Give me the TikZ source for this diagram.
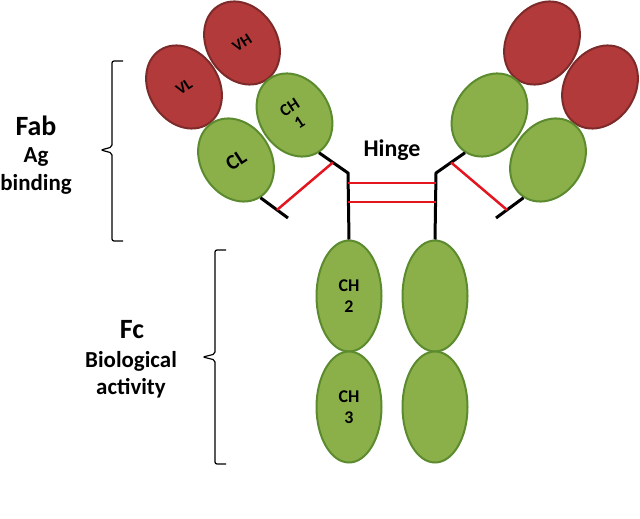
\documentclass[tikz,border=0pt]{standalone}
\usepackage{fontspec}
\setmainfont{Carlito}
\usetikzlibrary{shapes.geometric,calc}
\definecolor{redfill}{HTML}{B33A3A}
\definecolor{reddraw}{HTML}{7D2A2A}
\definecolor{greenfill}{HTML}{8BB04A}
\definecolor{greendraw}{HTML}{5C8A2E}
\definecolor{bondred}{HTML}{E3161F}
\tikzset{
  vdom/.style={ellipse, draw=reddraw, fill=redfill, line width=2bp, minimum width=70bp, minimum height=88bp, inner sep=0pt},
  cdom/.style={ellipse, draw=greendraw, fill=greenfill, line width=2bp, minimum width=70bp, minimum height=88bp, inner sep=0pt},
  fcdom/.style={ellipse, draw=greendraw, fill=greenfill, line width=2bp, minimum width=65bp, minimum height=111bp, inner sep=0pt},
  vlab/.style={inner sep=0pt, font=\bfseries\fontsize{16}{16}\selectfont},
  clab/.style={inner sep=0pt, align=center, font=\bfseries\fontsize{17}{18}\selectfont},
  fclab/.style={inner sep=0pt, align=center, font=\bfseries\fontsize{18}{21}\selectfont},
  chain/.style={line width=3bp, black},
  bond/.style={line width=2.5bp, bondred},
  brk/.style={line width=1.2bp, black, rounded corners=2bp},
  title/.style={font=\bfseries\fontsize{28}{30}\selectfont},
  sub/.style={font=\bfseries\fontsize{23}{24}\selectfont},
}
\begin{document}
\begin{tikzpicture}[x=1bp,y=-1bp]
\useasboundingbox (0,0) rectangle (640,519);
% Fc domains
\node[fcdom] (CH2) at (349,296) {};
\node[fcdom] (CH3) at (349,407) {};
\node[fcdom] (CH2r) at (435,296) {};
\node[fcdom] (CH3r) at (435,407) {};
% Fab left
\node[vdom, rotate=33] (VH) at (242,43) {};
\node[vdom, rotate=33] (VL) at (184,87) {};
\node[cdom, rotate=33] (CH1) at (294.5,115) {};
\node[cdom, rotate=33] (CL) at (236,160) {};
% Fab right
\node[vdom, rotate=-33] (VHr) at (542,43) {};
\node[vdom, rotate=-33] (VLr) at (600,87) {};
\node[cdom, rotate=-33] (CH1r) at (489.5,115) {};
\node[cdom, rotate=-33] (CLr) at (548,160) {};
% domain labels
\node[vlab, rotate=33] (VHt) at (VH) {VH};
\node[vlab, rotate=33] (VLt) at (VL) {VL};
\node[clab, rotate=33] (CH1t) at (CH1) {CH\\1};
\node[clab, rotate=33, font=\bfseries\fontsize{21}{21}\selectfont] (CLt) at (CL) {CL};
\node[fclab] (CH2t) at (CH2) {CH\\2};
\node[fclab] (CH3t) at (CH3) {CH\\3};
% chain coordinates
\coordinate (lbend) at (348,173);
\coordinate (rbend) at (436,173);
\coordinate (lstub) at (288,218);
\coordinate (rstub) at (496,218);
\coordinate (lh1) at (348,183);
\coordinate (rh1) at (436,183);
\coordinate (lh2) at (348,202);
\coordinate (rh2) at (436,202);
% heavy chains
\draw[chain] (CH1.south) -- (lbend) -- (CH2.north);
\draw[chain] (CH1r.south) -- (rbend) -- (CH2r.north);
% light chain stubs
\draw[chain] (CL.south) -- (lstub);
\draw[chain] (CLr.south) -- (rstub);
% disulfide bonds
\draw[bond] ($(CL.south)!0.6!(lstub)$) -- ($(CH1.south)!0.48!(lbend)$);
\draw[bond] ($(CLr.south)!0.6!(rstub)$) -- ($(CH1r.south)!0.48!(rbend)$);
\draw[bond] (lh1) -- (rh1);
\draw[bond] (lh2) -- (rh2);
% labels
\node[font=\bfseries\fontsize{24}{24}\selectfont] (hinge) at (392,150) {Hinge};
\node[title] (fab) at (36,126) {Fab};
\node[sub] (ag) at (36,157) {Ag};
\node[sub] (binding) at (36,184) {binding};
\node[title] (fc) at (132,330) {Fc};
\node[sub] (bio) at (131,361) {Biological};
\node[sub] (act) at (131,388) {activity};
% brackets
\draw[brk] (123,61) -- (112,61) -- (112,147) -- (101,150) -- (112,153) -- (112,241) -- (123,241);
\draw[brk] (226,250) -- (215,250) -- (215,354) -- (203,357) -- (215,360) -- (215,464) -- (226,464);
\end{tikzpicture}
\end{document}
